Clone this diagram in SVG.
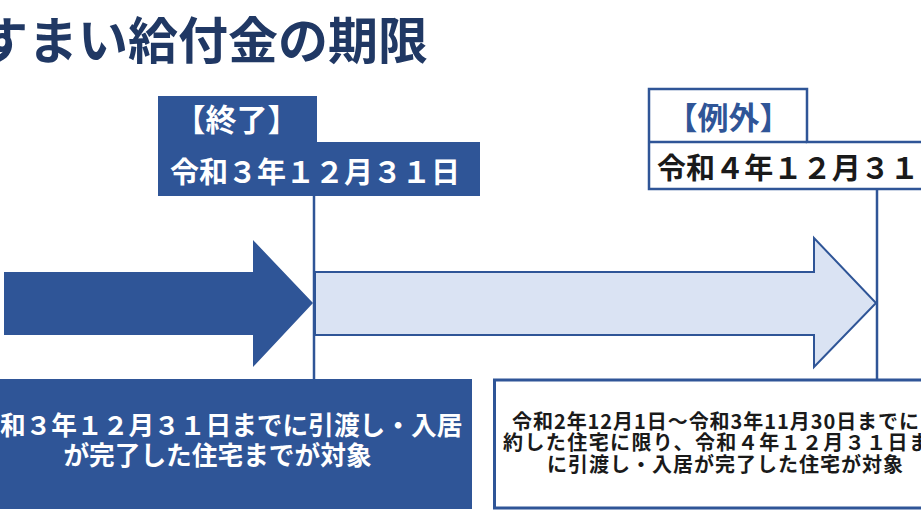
<svg xmlns="http://www.w3.org/2000/svg" width="921" height="518" viewBox="0 0 921 518">
  <style>
    text { font-family: "Noto Sans CJK JP", "Noto Sans", sans-serif; font-weight: bold; dominant-baseline: central; }
    .title { font-size: 50px; fill: #203864; }
    .tab { font-size: 31px; }
    .date { font-size: 29px; }
    .wt { fill: #ffffff; }
    .bl { fill: #2F5597; }
    .dk { fill: #1a1a1a; }
    .note1 { font-size: 25.7px; }
    .note2 { font-size: 20px; }
    .solid { fill: #2F5597; }
    .outline { fill: #ffffff; stroke: #2F5597; stroke-width: 2.5; }
    .vline { stroke: #2F5597; stroke-width: 2.5; fill: none; }
  </style>

  <rect x="0" y="0" width="921" height="518" fill="#ffffff"/>

  <g id="title">
    <text class="title" x="-22" y="36.5">すまい給付金の期限</text>
  </g>

  <g id="end-label">
    <rect class="solid" x="158" y="96" width="159" height="47"/>
    <rect class="solid" x="158" y="142" width="322" height="54"/>
    <text class="tab wt" x="236.5" y="117" text-anchor="middle">【終了】</text>
    <text class="date wt" x="170" y="170">令和３年１２月３１日</text>
  </g>

  <g id="exception-label">
    <path class="outline" d="M649,189 L649,89 L807,89 L807,142 L930,142 L930,189 Z"/>
    <line x1="649" y1="142" x2="807" y2="142" stroke="#2F5597" stroke-width="2.5"/>
    <text class="tab bl" x="728.5" y="115" text-anchor="middle">【例外】</text>
    <text class="date dk" x="657" y="165.5" textLength="262" lengthAdjust="spacing">令和４年１２月３１</text>
  </g>

  <g id="arrow-main">
    <polygon class="solid" points="4,272 253,272 253,240 313,303 253,367 253,335 4,335"/>
  </g>

  <g id="arrow-extension">
    <polygon fill="#DAE3F3" stroke="#2F5597" stroke-width="2" points="315,272 814,272 814,238 876,303 814,367 814,335 315,335"/>
  </g>

  <g id="connectors">
    <line class="vline" x1="314" y1="196" x2="314" y2="379"/>
    <line class="vline" x1="877" y1="189" x2="877" y2="379"/>
  </g>

  <g id="end-note">
    <rect class="solid" x="-40" y="379" width="512" height="130"/>
    <text class="note1 wt" x="0" y="423">和３年１２月３１日までに引渡し・入居</text>
    <text class="note1 wt" x="217.5" y="453" text-anchor="middle">が完了した住宅までが対象</text>
  </g>

  <g id="exception-note">
    <rect x="494.5" y="380" width="440" height="128" fill="#ffffff" stroke="#2F5597" stroke-width="3"/>
    <text class="note2 dk" x="512" y="420.5" textLength="407" lengthAdjust="spacing">令和2年12月1日～令和3年11月30日までに</text>
    <text class="note2 dk" x="503" y="441" textLength="426" lengthAdjust="spacing">約した住宅に限り、令和４年１２月３１日ま</text>
    <text class="note2 dk" x="547" y="463.5" textLength="356" lengthAdjust="spacing">に引渡し・入居が完了した住宅が対象</text>
  </g>
</svg>
